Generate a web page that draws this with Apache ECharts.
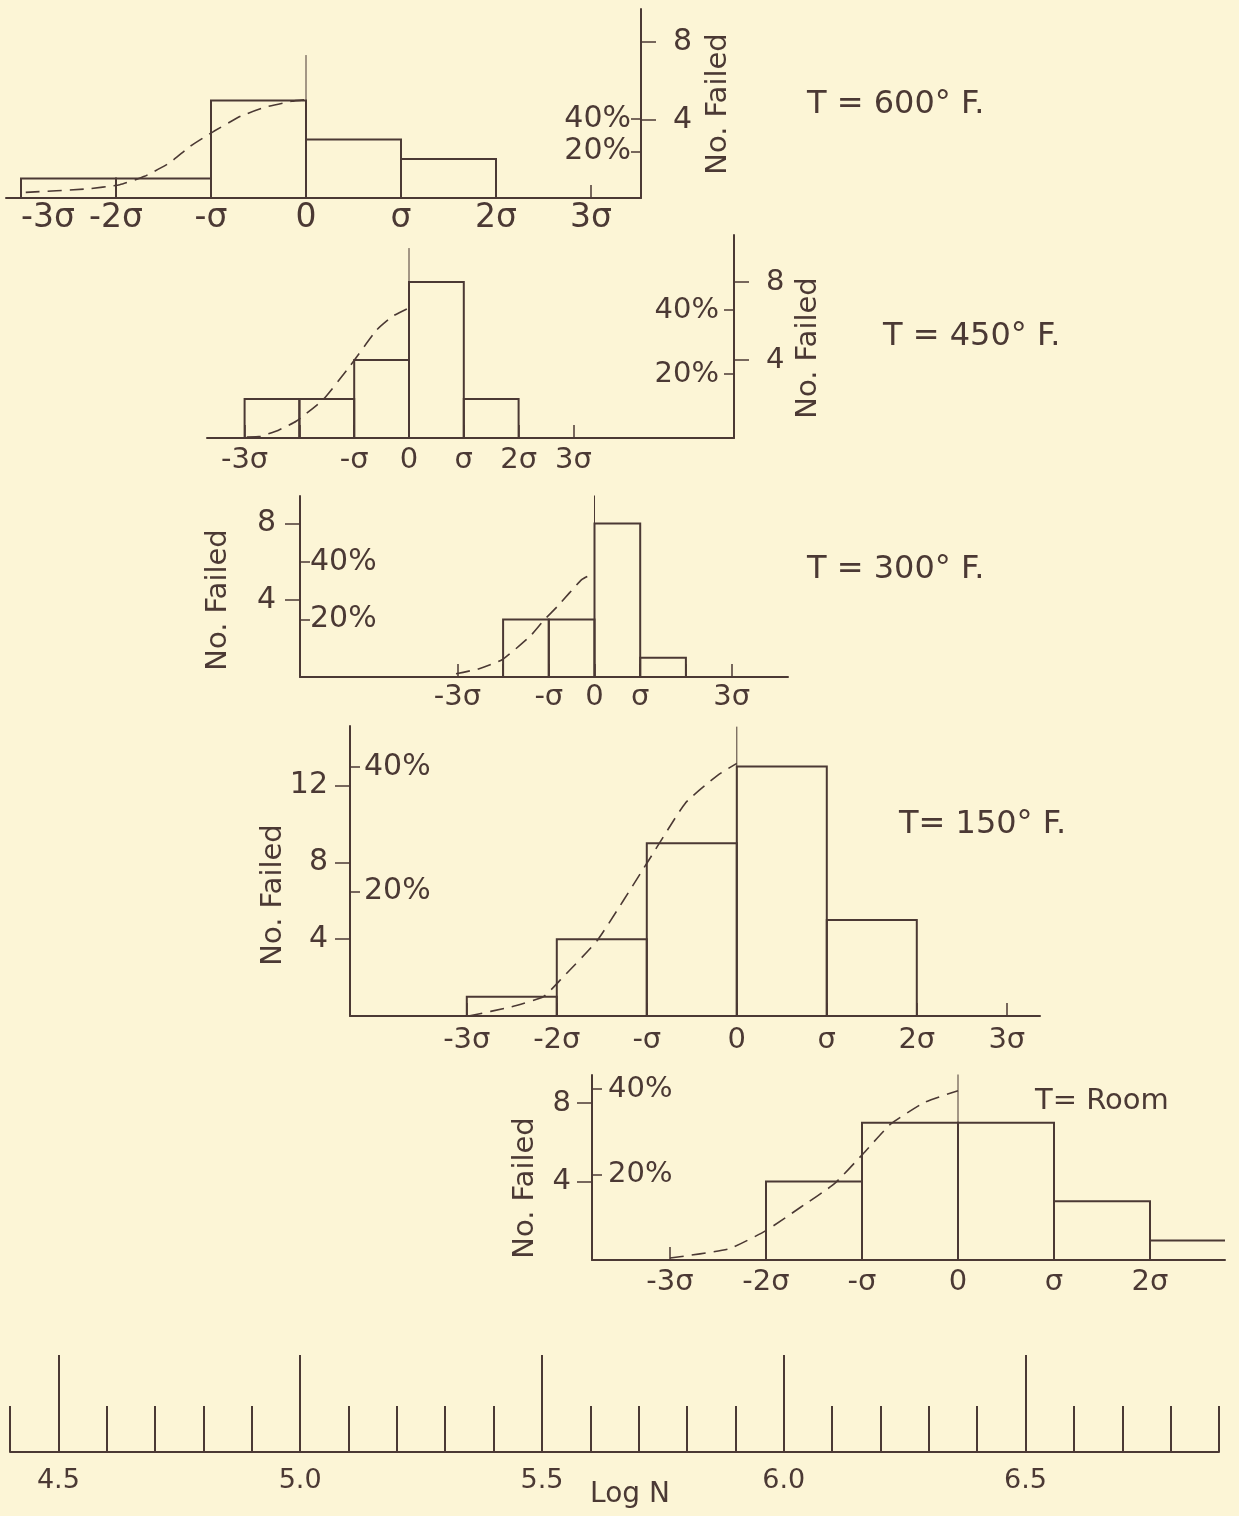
<!DOCTYPE html>
<html>
<head>
<meta charset="utf-8">
<script src="https://cdn.jsdelivr.net/npm/echarts@6/dist/echarts.min.js"></script>
<style>
  html, body { margin: 0; padding: 0; background: #fcf5d6; }
  #main { width: 1239px; height: 1516px; }
</style>
</head>
<body>
<div id="main"></div>
<script>
var ink = '#4b3934';
var face = 'DejaVu Sans';

// panel titles
var temps = ['T = 600° F.', 'T = 450° F.', 'T = 300° F.', 'T= 150° F.', 'T= Room'];

// histogram bins: start of each bin in sigma units, number failed in it
var bins600 = [-3, -2, -1, 0, 1];
var failed600 = [1, 1, 5, 3, 2];
var bins450 = [-3, -2, -1, 0, 1];
var failed450 = [2, 2, 4, 8, 2];
var bins300 = [-2, -1, 0, 1];
var failed300 = [3, 3, 8, 1];
var bins150 = [-3, -2, -1, 0, 1];
var failed150 = [1, 4, 9, 13, 5];
var binsRoom = [-2, -1, 0, 1, 2];
var failedRoom = [4, 7, 7, 3, 1];

// dashed curves (sigma, no. failed)
var curveX600 = [-2.95, -2.32, -1.96, -1.70, -1.44, -1.22, -0.97, -0.69, -0.42, -0.15, 0];
var curveY600 = [0.29, 0.46, 0.68, 1.11, 1.79, 2.65, 3.42, 4.19, 4.67, 4.96, 5.04];
var curveX450 = [-2.96, -2.71, -2.39, -2.06, -1.57, -1.08, -0.59, -0.30, 0];
var curveY450 = [0.05, 0.09, 0.39, 0.86, 1.96, 3.68, 5.54, 6.24, 6.67];
var curveX300 = [-3.03, -2.54, -2.02, -1.41, -1.11, -0.81, -0.28, 0];
var curveY300 = [0.17, 0.42, 0.90, 2.12, 2.95, 3.68, 5.07, 5.42];
var curveX150 = [-2.98, -2.50, -2.15, -1.96, -1.54, -0.98, -0.57, -0.21, 0];
var curveY150 = [0, 0.48, 1.0, 1.88, 4.0, 8.1, 11.1, 12.55, 13.16];
var curveXRoom = [-3, -2.39, -2, -1.64, -1.29, -0.99, -0.70, -0.35, 0];
var curveYRoom = [0.1, 0.56, 1.5, 2.69, 3.88, 5.41, 6.94, 8.04, 8.64];

// height of the thin line drawn at the mean (no. failed)
var zeroTop = [7.33, 9.74, 9.6, 15.07, 9.56];

// tick labels
var sigmaLabels = [
  [-3, -2, -1, 0, 1, 2, 3],
  [-3, -1, 0, 1, 2, 3],
  [-3, -1, 0, 1, 3],
  [-3, -2, -1, 0, 1, 2, 3],
  [-3, -2, -1, 0, 1, 2]
];
var sigmaTicks = [-3, -2, -1, 0, 1, 2, 3];
var countTicks = [[4, 8], [4, 8], [4, 8], [4, 8, 12], [4, 8]];
var pctTicks = [20, 40];
var logTicks = [4.4, 4.5, 4.6, 4.7, 4.8, 4.9, 5.0, 5.1, 5.2, 5.3, 5.4, 5.5, 5.6,
                5.7, 5.8, 5.9, 6.0, 6.1, 6.2, 6.3, 6.4, 6.5, 6.6, 6.7, 6.8, 6.9];
var logMajor = [4.5, 5.0, 5.5, 6.0, 6.5];

var bins = [bins600, bins450, bins300, bins150, binsRoom];
var failed = [failed600, failed450, failed300, failed150, failedRoom];
var curveX = [curveX600, curveX450, curveX300, curveX150, curveXRoom];
var curveY = [curveY600, curveY450, curveY300, curveY150, curveYRoom];

// page layout of each panel (pixels)
var layout = [
  {left: 6,   right: 641,  top: 9,    base: 198,  zero: 306,   sig: 95,   ppc: 19.5, pctMin: -8.9, pctPx: 1.615, side: 'right', fs: 30, lfs: 33, cm: 32, pm: 10, sm: 4},
  {left: 207, right: 734,  top: 235,  base: 438,  zero: 409,   sig: 54.8, ppc: 19.5, pctMin: 0,    pctPx: 3.2,   side: 'right', fs: 29, lfs: 29, cm: 32, pm: 15, sm: 8},
  {left: 300, right: 788,  top: 496,  base: 677,  zero: 594.5, sig: 45.7, ppc: 19.2, pctMin: 0,    pctPx: 2.87,  side: 'left',  fs: 30, lfs: 29, cm: 24, pm: 10, sm: 6},
  {left: 350, right: 1040, top: 726,  base: 1016, zero: 736.8, sig: 90,   ppc: 19.2, pctMin: 0,    pctPx: 6.23,  side: 'left',  fs: 30, lfs: 29, cm: 22, pm: 14, sm: 10},
  {left: 592, right: 1225, top: 1075, base: 1260, zero: 958,   sig: 96,   ppc: 19.6, pctMin: 0,    pctPx: 4.27,  side: 'left',  fs: 29, lfs: 29, cm: 21, pm: 16, sm: 8}
];

// where the titles and axis names sit
var titlePos = [[807, 105], [883, 337], [807, 570], [899, 825], [1035, 1101]];
var namePos = [[718, 104], [808, 348], [218, 600], [273, 895], [525, 1188]];

function sigmaText(v) {
  if (v === 0) return '0';
  if (v === 1) return 'σ';
  if (v === -1) return '-σ';
  return v + 'σ';
}

function histItem(params, api) {
  var p0 = api.coord([api.value(0), api.value(2)]);
  var p1 = api.coord([api.value(1), 0]);
  return {
    type: 'rect',
    shape: {x: p0[0], y: p0[1], width: p1[0] - p0[0], height: p1[1] - p0[1]},
    style: {fill: 'none', stroke: ink, lineWidth: 2}
  };
}

var grids = [], xAxes = [], yAxes = [], series = [], graphics = [];

layout.forEach(function (l, i) {
  var h = l.base - l.top;
  var xmin = (l.left - l.zero) / l.sig;
  var xmax = (l.right - l.zero) / l.sig;
  grids.push({left: l.left, top: l.top, width: l.right - l.left, height: h, outerBoundsMode: 'none'});

  xAxes.push({
    gridIndex: i, type: 'value', min: xmin, max: xmax,
    axisLine: {onZero: false, lineStyle: {color: ink, width: 2}},
    axisTick: {inside: true, length: 13, lineStyle: {color: ink, width: 1.5},
      customValues: sigmaTicks.filter(function (v) { return v > xmin && v < xmax; })},
    axisLabel: {customValues: sigmaLabels[i].filter(function (v) { return v > xmin && v < xmax; }),
      formatter: sigmaText, margin: l.sm, fontSize: l.lfs, color: ink, fontFamily: face,
      alignMinLabel: i === 0 ? 'left' : 'center'},
    splitLine: {show: false}
  });

  yAxes.push({
    gridIndex: i, type: 'value', min: 0, max: h / l.ppc, position: l.side,
    axisLine: {show: true, onZero: false, lineStyle: {color: ink, width: 2}},
    axisTick: {show: true, length: 15, customValues: countTicks[i], lineStyle: {color: ink, width: 1.5}},
    axisLabel: {customValues: countTicks[i], margin: l.cm, fontSize: l.fs, color: ink, fontFamily: face},
    splitLine: {show: false}
  });
  yAxes.push({
    gridIndex: i, type: 'value', min: l.pctMin, max: l.pctMin + h / l.pctPx, position: l.side,
    axisLine: {show: false, onZero: false},
    axisTick: {show: true, inside: true, length: 10, customValues: pctTicks, lineStyle: {color: ink, width: 1.5}},
    axisLabel: {inside: true, customValues: pctTicks, formatter: '{value}%', margin: l.pm,
      fontSize: l.fs, color: ink, fontFamily: face},
    splitLine: {show: false}
  });

  series.push({
    type: 'custom', xAxisIndex: i, yAxisIndex: 2 * i, clip: true,
    renderItem: histItem, encode: {x: [0, 1], y: 2},
    data: bins[i].map(function (b, j) { return [b, b + 1, failed[i][j]]; }),
    silent: true
  });
  series.push({
    type: 'line', xAxisIndex: i, yAxisIndex: 2 * i, symbol: 'none', silent: true,
    lineStyle: {color: ink, width: 1},
    data: [[0, 0], [0, zeroTop[i]]]
  });
  series.push({
    type: 'line', xAxisIndex: i, yAxisIndex: 2 * i, symbol: 'none',
    smooth: 0.15, silent: true,
    lineStyle: {color: ink, width: 1.6, type: [14, 8]},
    data: curveX[i].map(function (x, j) { return [x, curveY[i][j]]; })
  });

  graphics.push({
    type: 'text', x: titlePos[i][0], y: titlePos[i][1],
    style: {text: temps[i], fill: ink, font: (i === 4 ? 29 : 32) + 'px "' + face + '"',
      textAlign: 'left', textVerticalAlign: 'middle'}
  });
  graphics.push({
    type: 'text', x: namePos[i][0], y: namePos[i][1], rotation: Math.PI / 2,
    style: {text: 'No. Failed', fill: ink, font: '29px "' + face + '"',
      textAlign: 'center', textVerticalAlign: 'middle'}
  });
});

// common Log N scale along the bottom
grids.push({left: 10, width: 1209, top: 1300, height: 152, outerBoundsMode: 'none'});
xAxes.push({
  gridIndex: 5, type: 'value', min: 4.4, max: 6.9, position: 'bottom',
  axisLine: {onZero: false, lineStyle: {color: ink, width: 2}},
  axisTick: {inside: true, length: 46, customValues: logTicks, lineStyle: {color: ink, width: 2}},
  axisLabel: {customValues: logMajor, formatter: function (v) { return v.toFixed(1); },
    margin: 15, fontSize: 27, color: ink, fontFamily: face},
  splitLine: {show: false}
});
xAxes.push({
  gridIndex: 5, type: 'value', min: 4.4, max: 6.9, position: 'bottom',
  axisLine: {show: false, onZero: false},
  axisTick: {inside: true, length: 97, customValues: logMajor, lineStyle: {color: ink, width: 2}},
  axisLabel: {show: false},
  splitLine: {show: false}
});
yAxes.push({gridIndex: 5, type: 'value', min: 0, max: 1, show: false});

graphics.push({
  type: 'text', x: 630, y: 1495,
  style: {text: 'Log N', fill: ink, font: '28px "' + face + '"', textAlign: 'center', textVerticalAlign: 'middle'}
});

var chart = echarts.init(document.getElementById('main'), null, {renderer: 'canvas'});
chart.setOption({
  backgroundColor: '#fcf5d6',
  animation: false,
  textStyle: {color: ink, fontFamily: face},
  grid: grids,
  xAxis: xAxes,
  yAxis: yAxes,
  series: series,
  graphic: graphics
});
</script>
</body>
</html>
